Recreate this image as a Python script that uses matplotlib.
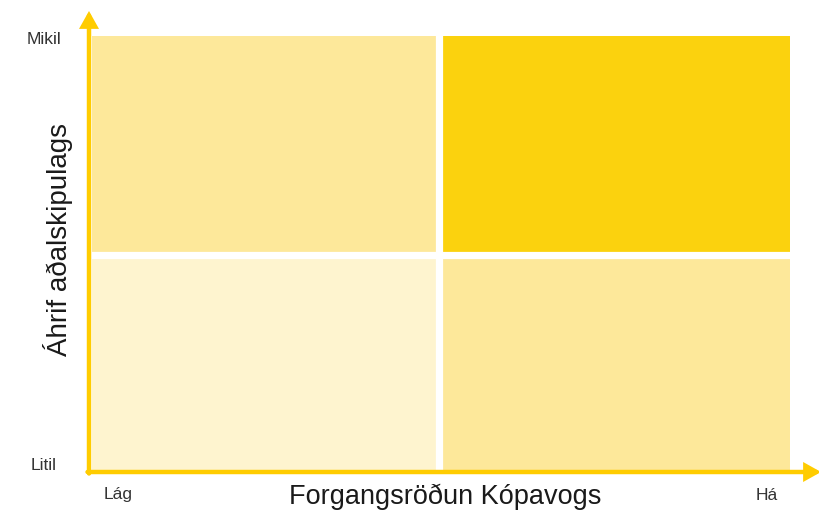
import matplotlib
matplotlib.use("Agg")
import matplotlib.pyplot as plt
from matplotlib.patches import FancyArrowPatch

# Data
x_levels = ["Lág", "Há"]
y_levels = ["Litil", "Mikil"]
# priority score per quadrant (row = y level, col = x level)
scores = [[1, 2],
          [2, 3]]
score_colors = {1: "#FEF4CF", 2: "#FDE89A", 3: "#FBD20E"}
x_title = "Forgangsröðun Kópavogs"
y_title = "Áhrif aðalskipulags"

W, H = 819, 516
fig = plt.figure(figsize=(W / 100, H / 100), dpi=100)
ax = fig.add_axes([92 / W, (H - 470) / H, (790 - 92) / W, (470 - 36) / H])
ax.set_xlim(0, 2)
ax.set_ylim(0, 2)
ax.axis("off")

for yi, row in enumerate(scores):
    for xi, s in enumerate(row):
        ax.bar(xi + 0.5, 1, bottom=yi, width=1, color=score_colors[s], edgecolor="none")

ax.axvline(0.995, color="white", lw=5.2)
ax.axhline(0.99, color="white", lw=5.2)

# axes arrows in figure pixels
axis_col = "#FFCC00"
ox, oy = 89 / W, (H - 472) / H
style = "-|>,head_length=5,head_width=2.8"
fig.add_artist(FancyArrowPatch(
    (ox, oy - 1.5 / H), (ox, (H - 11) / H), transform=fig.transFigure,
    arrowstyle=style, mutation_scale=1.6, joinstyle="miter",
    color=axis_col, lw=3.2, shrinkA=0, shrinkB=0))
fig.add_artist(FancyArrowPatch(
    (ox - 1.5 / W, oy), ((W + 2) / W, oy), transform=fig.transFigure,
    arrowstyle=style, mutation_scale=1.6, joinstyle="miter",
    color=axis_col, lw=3.2, shrinkA=0, shrinkB=0))

tick_font = dict(fontsize=12.5, color="#333333", family="Liberation Sans")
fig.text(44 / W, (H - 40) / H, y_levels[1], ha="center", va="center", **tick_font)
fig.text(44 / W, (H - 465) / H, y_levels[0], ha="center", va="center", **tick_font)
fig.text(118 / W, (H - 495) / H, x_levels[0], ha="center", va="center", **tick_font)
fig.text(767 / W, (H - 495) / H, x_levels[1], ha="center", va="center", **tick_font)

title_font = dict(color="#1a1a1a", family="Liberation Sans")
fig.text(445 / W, (H - 497) / H, x_title, ha="center", va="center",
         fontsize=19.5, **title_font)
fig.text(58 / W, (H - 240) / H, y_title, ha="center", va="center", rotation=90,
         fontsize=20, **title_font)

fig.savefig("out.png", dpi=100)
